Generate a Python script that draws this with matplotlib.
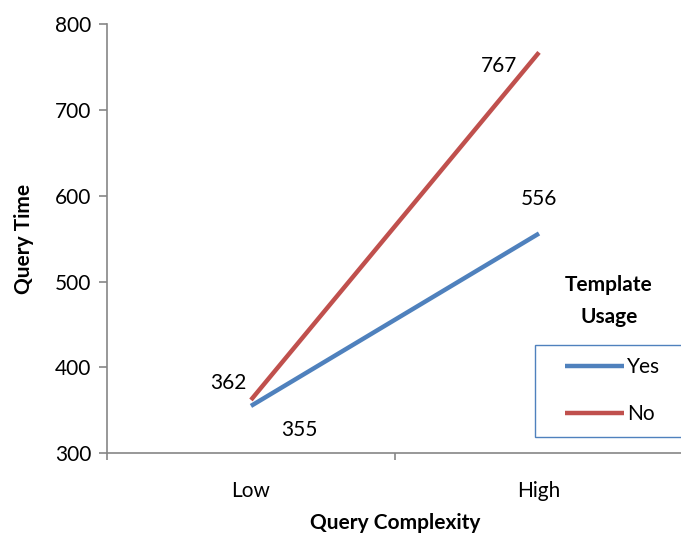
import matplotlib.pyplot as plt
from matplotlib.patches import Rectangle

plt.rcParams["font.family"] = ["Lato", "DejaVu Sans"]

complexity = ["Low", "High"]
series_names = ["Yes", "No"]
query_time_yes = [355, 556]
query_time_no = [362, 767]

BLUE = "#4F81BD"
RED = "#C0504D"
AXIS_GREY = "#868686"
FS = 15

fig = plt.figure(figsize=(6.81, 5.35), dpi=100)
ax = fig.add_axes([0.157, 0.153, 0.846, 0.802])

x = [0.5, 1.5]
ax.plot(x, query_time_no, color=RED, linewidth=3.2, solid_capstyle="butt", label=series_names[1], zorder=3)
ax.plot(x, query_time_yes, color=BLUE, linewidth=3.2, solid_capstyle="butt", label=series_names[0], zorder=4)

# value labels next to each end point
ax.annotate(str(query_time_no[0]), (x[0], query_time_no[0]), xytext=(-16, 12),
            textcoords="offset points", ha="center", va="center", fontsize=FS)
ax.annotate(str(query_time_yes[0]), (x[0], query_time_yes[0]), xytext=(35, -17),
            textcoords="offset points", ha="center", va="center", fontsize=FS)
ax.annotate(str(query_time_no[1]), (x[1], query_time_no[1]), xytext=(-29, -10),
            textcoords="offset points", ha="center", va="center", fontsize=FS)
ax.annotate(str(query_time_yes[1]), (x[1], query_time_yes[1]), xytext=(0, 25),
            textcoords="offset points", ha="center", va="center", fontsize=FS)

ax.set_xlim(0, 2)
ax.set_ylim(300, 800)
ax.set_yticks(range(300, 801, 100))
ax.set_xticks([0, 1, 2])
ax.set_xticklabels([])
ax.set_xticks(x, minor=True)
ax.set_xticklabels(complexity, minor=True)
ax.tick_params(axis="x", which="minor", length=0, pad=20, labelsize=FS)
ax.tick_params(axis="x", which="major", length=5, color=AXIS_GREY, width=1.2)
ax.tick_params(axis="y", length=6, color=AXIS_GREY, width=1.2, labelsize=FS, pad=5)

for side in ["top", "right"]:
    ax.spines[side].set_visible(False)
for side in ["left", "bottom"]:
    ax.spines[side].set_color(AXIS_GREY)
    ax.spines[side].set_linewidth(1.2)

ax.set_ylabel("Query Time", fontsize=FS, fontweight="bold", labelpad=15)
ax.set_xlabel("Query Complexity", fontsize=FS, fontweight="bold", labelpad=9)

# legend: title above, entries inside a blue box running off the right edge
handles, labels = ax.get_legend_handles_labels()
leg = ax.legend(handles[::-1], labels[::-1], loc="upper left", bbox_to_anchor=(557 / 681, 186 / 535),
                bbox_transform=fig.transFigure, fontsize=FS, frameon=False,
                handlelength=2.8, handletextpad=0.15, labelspacing=1.3,
                borderpad=0.4, borderaxespad=0)
leg.set_zorder(6)
ax.add_patch(Rectangle((535 / 681, 98 / 535), 160 / 681, 92 / 535, transform=fig.transFigure,
                       facecolor="white", edgecolor=BLUE, linewidth=1.0, zorder=5, clip_on=False))
fig.text(609 / 681, 234 / 535, "Template\nUsage", ha="center", va="center",
         fontsize=FS, fontweight="bold", linespacing=1.8)

fig.savefig("out.png", dpi=100)
